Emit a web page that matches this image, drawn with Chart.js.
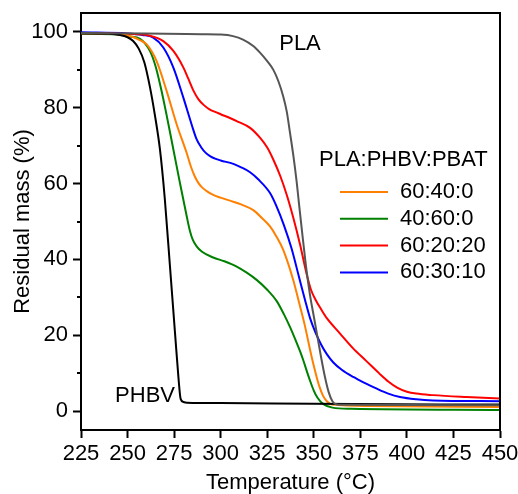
<!DOCTYPE html>
<html>
<head>
<meta charset="utf-8">
<script src="https://cdn.jsdelivr.net/npm/chart.js@4.4.1/dist/chart.umd.min.js"></script>
<style>
  html, body { margin: 0; padding: 0; background: #fff; }
  #wrap { width: 518px; height: 494px; }
</style>
</head>
<body>
<div id="wrap"><canvas id="tga" width="518" height="494"></canvas></div>
<script>
// TGA curves, temperature (°C) vs residual mass (%)
const plaTemp = [225, 260, 290, 300, 306.6, 312, 317.5, 321, 325, 328.3, 331, 333.6, 335.5, 337.2, 339, 340.8, 342, 344, 346, 348, 350, 352, 354, 356, 358, 360, 362, 365, 450];
const plaMass = [99.7, 99.6, 99.4, 99.3, 98.9, 98, 96.3, 94.6, 92.3, 90, 87, 83, 79, 73.5, 67.5, 60.5, 55, 46, 37.5, 30.5, 25, 19.5, 14, 9, 5, 2.6, 1.8, 1.65, 1.5];

const phbvTemp = [225, 240, 246, 250, 253, 256, 259, 262, 264.7, 267.4, 270, 272.8, 275.5, 277.3, 278.5, 280, 282, 300, 350, 450];
const phbvMass = [99.6, 99.5, 99.2, 98.6, 97.6, 95.6, 92, 85.5, 78, 69, 56, 38, 20.5, 9, 3.2, 2.4, 2.2, 2.1, 1.9, 1.7];

const b1Temp = [225, 245, 252, 256, 260.3, 265.6, 271, 276.4, 281.8, 284, 286, 288, 290, 292.5, 296, 300, 305, 311, 317.5, 322, 326.5, 330, 333.6, 339, 342, 345, 347, 349, 351, 353, 355, 357, 360, 380, 450];
const b1Mass = [99.6, 99.4, 98.8, 98, 96.7, 92.3, 84.4, 75.6, 68, 64.5, 62, 60.2, 59, 58, 57, 56.3, 55.5, 54.5, 53, 51, 48.7, 46, 42.5, 34.5, 28.8, 23, 18.5, 14, 10, 6.5, 4, 2.6, 1.7, 1.3, 1.1];

const b2Temp = [225, 245, 251, 256.7, 262, 265, 268, 271, 274.6, 278.2, 281.8, 283.5, 285, 287, 290, 296, 302, 308.6, 314, 319.3, 325, 330.1, 334, 337.2, 340, 342.6, 344.5, 346.2, 348, 350, 352, 355, 360, 370, 450];
const b2Mass = [99.6, 99.3, 98.8, 98.2, 95, 91, 85, 78, 69, 60, 51.3, 47.5, 45.2, 43.5, 42, 40.5, 39.5, 38.1, 36.5, 34.6, 32, 29, 25.5, 22.2, 19, 15.8, 13.2, 10.6, 8, 5.4, 3.5, 1.9, 0.9, 0.6, 0.3];

const b3Temp = [225, 250, 262, 269.2, 274.6, 280, 282.5, 285.3, 288, 291, 294, 297, 300, 308.6, 315.8, 321.1, 325, 328.3, 332, 335.5, 339, 342.6, 346, 348.5, 351, 354, 357, 364, 371, 378, 385, 390, 395, 400, 405, 414, 432, 450];
const b3Mass = [99.7, 99.5, 99, 97.6, 95, 90.6, 87.8, 84.6, 82.3, 80.7, 79.6, 78.9, 78.3, 76.5, 74.7, 72.1, 69.5, 66.3, 62, 57, 51, 44, 36.5, 32, 29.3, 26.8, 24.5, 20.5, 16.6, 13.3, 10, 7.8, 6.1, 5.1, 4.6, 4.2, 3.7, 3.3];

const b4Temp = [225, 250, 258, 263.8, 269.2, 274.6, 280, 284.4, 287, 289.5, 292, 294.5, 297, 300, 306.8, 311, 315.8, 320, 326.5, 330, 334, 338, 342, 345.3, 348, 351, 354, 357, 360.5, 365, 371.2, 377, 383.8, 390, 396.3, 405, 414, 450];
const b4Mass = [99.9, 99.6, 99.2, 98.5, 95.9, 90.6, 82.6, 75.6, 71.8, 69.6, 68.1, 67.2, 66.6, 66.1, 65.2, 64.3, 63, 61.2, 57.5, 54, 49, 43, 35.5, 29.3, 24.5, 20.6, 17.5, 15, 12.8, 10.9, 9, 7.5, 5.9, 4.6, 3.7, 3.1, 2.8, 2.6];

const blendLabels = ['60:40:0', '40:60:0', '60:20:20', '60:30:10'];
const blendColors = ['#ff8000', '#008000', '#ff0000', '#0000ff'];
const yTicks = [0, 20, 40, 60, 80, 100];
const yMinorTicks = [10, 30, 50, 70, 90];

const FONT = '"Liberation Sans", Arial, sans-serif';
const FS = 22;
Chart.defaults.font.family = FONT;
Chart.defaults.font.size = FS;
Chart.defaults.color = '#000';

function pts(xs, ys) {
    return xs.map((t, i) => ({ x: t, y: ys[i] }));
}

function curve(label, xs, ys, color, inLegend) {
    return {
        label: label,
        data: pts(xs, ys),
        borderColor: color,
        backgroundColor: color,
        borderWidth: 2,
        pointRadius: 0,
        fill: false,
        cubicInterpolationMode: 'monotone',
        inLegend: inLegend
    };
}

// frame, minor ticks, legend and curve names
const decor = {
    id: 'decor',
    afterDraw(chart) {
        const { ctx, chartArea: a, scales: { x, y } } = chart;
        ctx.save();
        ctx.strokeStyle = '#000';
        ctx.lineWidth = 2;
        ctx.beginPath();
        ctx.moveTo(a.left - 1, a.top);
        ctx.lineTo(a.right, a.top);
        ctx.lineTo(a.right, a.bottom + 1);
        yMinorTicks.forEach(v => {
            const py = Math.round(y.getPixelForValue(v));
            ctx.moveTo(a.left, py);
            ctx.lineTo(a.left - 4, py);
        });
        ctx.stroke();

        ctx.fillStyle = '#000';
        ctx.font = FS + 'px ' + FONT;
        ctx.textBaseline = 'middle';
        ctx.textAlign = 'center';
        ctx.fillText('PLA', x.getPixelForValue(342.6), y.getPixelForValue(96.8));
        ctx.fillText('PHBV', x.getPixelForValue(259.4), y.getPixelForValue(3.9));

        // legend
        ctx.textAlign = 'left';
        ctx.fillText('PLA:PHBV:PBAT', a.right - 181, a.top + 147);
        chart.data.datasets.filter(d => d.inLegend).forEach((d, i) => {
            const ly = a.top + 179 + i * 26.8;
            ctx.strokeStyle = d.borderColor;
            ctx.beginPath();
            ctx.moveTo(a.right - 160, ly);
            ctx.lineTo(a.right - 112, ly);
            ctx.stroke();
            ctx.fillText(d.label, a.right - 100, ly);
        });
        ctx.restore();
    }
};

new Chart(document.getElementById('tga'), {
    type: 'line',
    data: {
        datasets: [
            curve('PLA', plaTemp, plaMass, '#555555', false),
            curve('PHBV', phbvTemp, phbvMass, '#000000', false),
            curve(blendLabels[0], b1Temp, b1Mass, blendColors[0], true),
            curve(blendLabels[1], b2Temp, b2Mass, blendColors[1], true),
            curve(blendLabels[2], b3Temp, b3Mass, blendColors[2], true),
            curve(blendLabels[3], b4Temp, b4Mass, blendColors[3], true)
        ]
    },
    options: {
        responsive: false,
        animation: false,
        devicePixelRatio: 1,
        layout: { padding: { top: 13, right: 18, left: 0, bottom: 0 } },
        plugins: { legend: { display: false }, tooltip: { enabled: false } },
        scales: {
            x: {
                type: 'linear',
                min: 225,
                max: 450,
                afterFit: s => { s.height = 64; s.paddingLeft = 0; s.paddingRight = 0; },
                border: { display: true, color: '#000', width: 2 },
                grid: { drawOnChartArea: false, tickLength: 8, tickWidth: 2, tickColor: '#000' },
                ticks: { stepSize: 25, padding: 3, maxRotation: 0, color: '#000' },
                title: { display: true, text: 'Temperature (°C)', color: '#000',
                         font: { size: FS, lineHeight: 1 }, padding: { top: 0, bottom: 0 } }
            },
            y: {
                type: 'linear',
                min: -5,
                max: 105,
                afterBuildTicks: s => { s.ticks = yTicks.map(v => ({ value: v })); },
                afterFit: s => { s.width = 81; s.paddingTop = 0; s.paddingBottom = 0; },
                border: { display: true, color: '#000', width: 2 },
                grid: { drawOnChartArea: false, tickLength: 8, tickWidth: 2, tickColor: '#000' },
                ticks: { padding: 5, color: '#000' },
                title: { display: true, text: 'Residual mass (%)', color: '#000',
                         font: { size: FS, lineHeight: 1 }, padding: { top: 12, bottom: 0 } }
            }
        }
    },
    plugins: [decor]
});
</script>
</body>
</html>
